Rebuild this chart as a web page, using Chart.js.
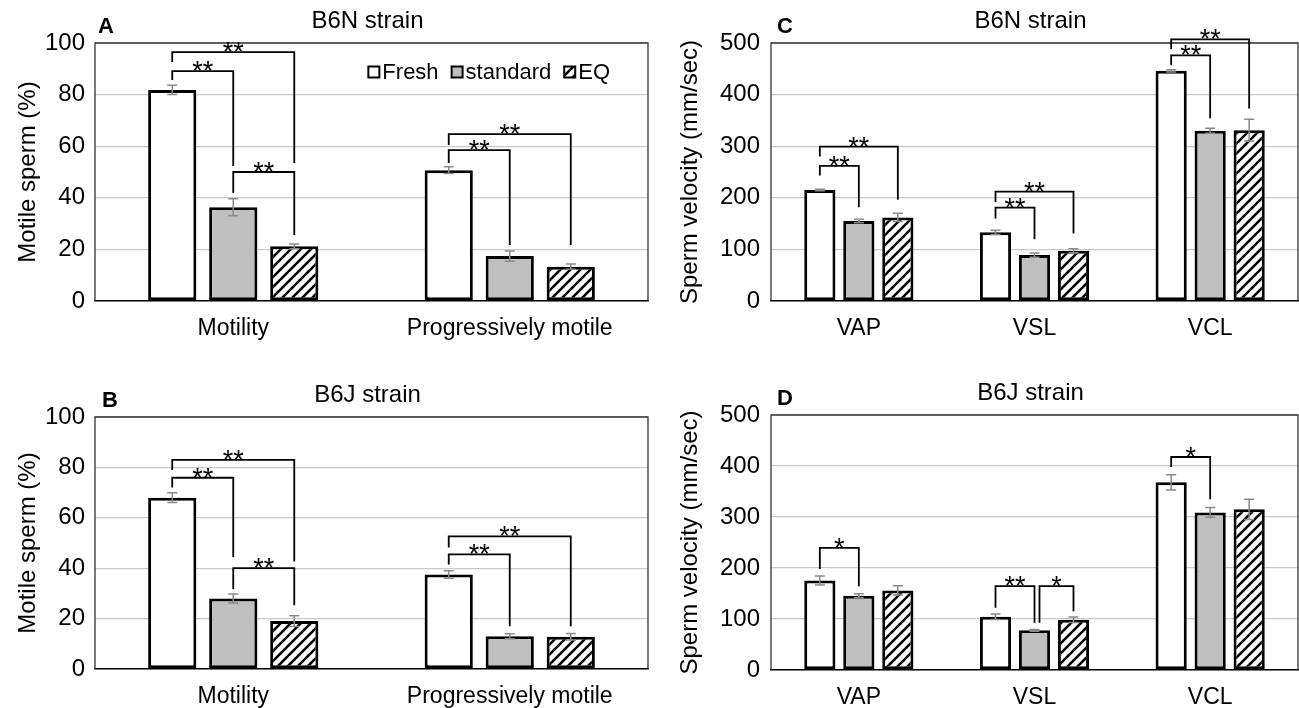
<!DOCTYPE html>
<html>
<head>
<meta charset="utf-8">
<script src="https://cdn.jsdelivr.net/npm/chart.js@4.4.1/dist/chart.umd.min.js"></script>
<style>
  body { margin: 0; width: 1299px; height: 708px; background: #fff; position: relative; overflow: hidden; }
  .panel { position: absolute; }
</style>
</head>
<body>
<div class="panel" style="left:0;top:0"><canvas id="chartA" width="650" height="354"></canvas></div>
<div class="panel" style="left:0;top:354px"><canvas id="chartB" width="650" height="354"></canvas></div>
<div class="panel" style="left:650px;top:0"><canvas id="chartC" width="649" height="354"></canvas></div>
<div class="panel" style="left:650px;top:354px"><canvas id="chartD" width="649" height="354"></canvas></div>
<script>
const seriesNames = ['Fresh', 'standard', 'EQ'];
const motilityCats = ['Motility', 'Progressively motile'];
const velocityCats = ['VAP', 'VSL', 'VCL'];
const pctTicks = [0, 20, 40, 60, 80, 100];
const velTicks = [0, 100, 200, 300, 400, 500];

// A - B6N motility (%)
const freshA = [81.8, 50.7];
const standardA = [36.3, 17.4];
const eqA = [21.2, 13.3];
const freshErrA = [1.8, 1.3];
const standardErrA = [3.3, 2.0];
const eqErrA = [0.9, 1.0];
// [category, from series, to series, bracket level, left leg end, right leg end, label]
const sigA = [
  [0, 0, 2, 96.5, 92.6, 53.5, '**'],
  [0, 0, 1, 89.1, 85.7, 52.3, '**'],
  [0, 1, 2, 50.0, 41.9, 25.6, '**'],
  [1, 0, 2, 64.7, 60.5, 21.7, '**'],
  [1, 0, 1, 58.5, 53.5, 21.7, '**']
];

// B - B6J motility (%)
const freshB = [68, 37.5];
const standardB = [28, 13];
const eqB = [19, 12.8];
const freshErrB = [1.9, 1.5];
const standardErrB = [1.8, 1.0];
const eqErrB = [2.1, 1.3];
const sigB = [
  [0, 0, 2, 83.0, 79.0, 42.7, '**'],
  [0, 0, 1, 75.9, 72.0, 44.3, '**'],
  [0, 1, 2, 40.0, 31.6, 25.3, '**'],
  [1, 0, 2, 52.6, 48.2, 17.0, '**'],
  [1, 0, 1, 45.5, 41.5, 17.0, '**']
];

// C - B6N velocity
const freshC = [215, 133, 446];
const standardC = [155, 89, 330];
const eqC = [162, 97.5, 331];
const freshErrC = [1.5, 4, 2];
const standardErrC = [3.5, 4, 5];
const eqErrC = [8, 4, 21];
const sigC = [
  [0, 0, 2, 299, 280, 196, '**'],
  [0, 0, 1, 262, 243, 181.5, '**'],
  [1, 0, 2, 212, 192, 131, '**'],
  [1, 0, 1, 181, 160, 119.5, '**'],
  [2, 0, 2, 507, 488, 373, '**'],
  [2, 0, 1, 476, 457, 354, '**']
];

// D - B6J velocity
const freshD = [175.5, 104.5, 368];
const standardD = [145.6, 77.7, 309];
const eqD = [156, 98.6, 315];
const freshErrD = [9, 5.5, 15];
const standardErrD = [4, 1.5, 9.5];
const eqErrD = [9, 5.5, 20];
const sigD = [
  [0, 0, 1, 239.5, 198, 164, '*'],
  [1, 0, 1, 164.4, 122, 92.7, '**'],
  [1, 1, 2, 164.4, 92.7, 115, '*'],
  [2, 0, 1, 417.6, 398, 335, '*']
];

const FONT = '"Liberation Sans", Arial, sans-serif';
Chart.defaults.font.family = FONT;
Chart.defaults.color = '#000';

function hatch() {
  const c = document.createElement('canvas');
  c.width = 10; c.height = 10;
  const g = c.getContext('2d');
  g.fillStyle = '#fff';
  g.fillRect(0, 0, 10, 10);
  g.strokeStyle = '#000';
  g.lineWidth = 2.6;
  g.beginPath();
  g.moveTo(-1, 11); g.lineTo(11, -1);
  g.moveTo(-6, 6); g.lineTo(6, -6);
  g.moveTo(4, 16); g.lineTo(16, 4);
  g.stroke();
  return g.createPattern(c, 'repeat');
}
const fills = ['#ffffff', '#bfbfbf', hatch()];

// left, top and right edges of the plot box
const frame = {
  id: 'frame',
  beforeDatasetsDraw(chart) {
    const {ctx, chartArea: a} = chart;
    ctx.save();
    ctx.strokeStyle = '#333';
    ctx.lineWidth = 1.3;
    ctx.beginPath();
    ctx.moveTo(a.left, a.bottom);
    ctx.lineTo(a.left, a.top);
    ctx.lineTo(a.right, a.top);
    ctx.lineTo(a.right, a.bottom);
    ctx.stroke();
    ctx.restore();
  }
};

const errorBars = {
  id: 'errorBars',
  afterDatasetsDraw(chart) {
    const {ctx} = chart;
    const y = chart.scales.y;
    ctx.save();
    ctx.strokeStyle = '#8a8a8a';
    ctx.lineWidth = 1.5;
    chart.data.datasets.forEach((ds, i) => {
      chart.getDatasetMeta(i).data.forEach((bar, j) => {
        const v = ds.data[j], e = ds.errors[j];
        const yt = y.getPixelForValue(v + e), yb = y.getPixelForValue(v - e);
        ctx.beginPath();
        ctx.moveTo(bar.x, yt); ctx.lineTo(bar.x, yb);
        ctx.moveTo(bar.x - 5, yt); ctx.lineTo(bar.x + 5, yt);
        ctx.moveTo(bar.x - 5, yb); ctx.lineTo(bar.x + 5, yb);
        ctx.stroke();
      });
    });
    ctx.restore();
  }
};

const brackets = {
  id: 'brackets',
  afterDraw(chart, args, opts) {
    const {ctx} = chart;
    const y = chart.scales.y;
    ctx.save();
    ctx.strokeStyle = '#000';
    ctx.lineWidth = 1.8;
    ctx.fillStyle = '#000';
    ctx.font = '27px ' + FONT;
    ctx.textAlign = 'center';
    ctx.textBaseline = 'alphabetic';
    opts.items.forEach(([cat, from, to, level, leftEnd, rightEnd, label]) => {
      let xl = chart.getDatasetMeta(from).data[cat].x;
      const xr = chart.getDatasetMeta(to).data[cat].x;
      // two brackets meeting on the same bar at the same height: keep the legs apart
      const shared = opts.items.some(o => o[0] === cat && o[2] === from && o[3] === level);
      if (shared) xl += 5;
      const yl = y.getPixelForValue(level);
      ctx.beginPath();
      ctx.moveTo(xl, y.getPixelForValue(leftEnd));
      ctx.lineTo(xl, yl);
      ctx.lineTo(xr, yl);
      ctx.lineTo(xr, y.getPixelForValue(rightEnd));
      ctx.stroke();
      ctx.fillText(label, (xl + xr) / 2, yl + 9);
    });
    ctx.restore();
  }
};

const boxLegend = {
  id: 'boxLegend',
  afterDraw(chart, args, opts) {
    if (!opts.show) return;
    const {ctx, chartArea: a} = chart;
    ctx.save();
    ctx.font = '22px ' + FONT;
    ctx.textBaseline = 'middle';
    const items = chart.data.datasets;
    const box = 11, gapText = 3, gapItem = 13;
    let total = 0;
    items.forEach((d, i) => {
      total += box + gapText + ctx.measureText(d.label).width + (i < items.length - 1 ? gapItem : 0);
    });
    let x = a.right - opts.right - total;
    const yc = a.top + opts.top;
    items.forEach(d => {
      ctx.fillStyle = d.backgroundColor;
      ctx.fillRect(x, yc - box / 2, box, box);
      ctx.strokeStyle = '#000';
      ctx.lineWidth = 2;
      ctx.strokeRect(x, yc - box / 2, box, box);
      x += box + gapText;
      ctx.fillStyle = '#000';
      ctx.fillText(d.label, x, yc + 1);
      x += ctx.measureText(d.label).width + gapItem;
    });
    ctx.restore();
  }
};

const panelText = {
  id: 'panelText',
  afterDraw(chart, args, opts) {
    const {ctx, chartArea: a} = chart;
    ctx.save();
    ctx.fillStyle = '#000';
    ctx.textBaseline = 'alphabetic';
    ctx.font = 'bold 22px ' + FONT;
    ctx.textAlign = 'left';
    ctx.fillText(opts.letter, a.left + opts.letterDx, a.top - 10);
    ctx.font = '24px ' + FONT;
    ctx.textAlign = 'center';
    ctx.fillText(opts.title, (a.left + a.right) / 2 - 4, a.top - 15);
    ctx.restore();
  }
};

function buildChart(id, p) {
  return new Chart(document.getElementById(id), {
    type: 'bar',
    data: {
      labels: p.categories,
      datasets: seriesNames.map((name, i) => ({
        label: name,
        data: p.values[i],
        errors: p.errors[i],
        backgroundColor: fills[i],
        borderColor: '#000',
        borderWidth: 3,
        borderSkipped: false,
        categoryPercentage: p.catPct,
        barPercentage: p.barPct
      }))
    },
    options: {
      responsive: false,
      animation: false,
      layout: {padding: {top: p.padTop, right: p.padRight, left: 0, bottom: 0}},
      plugins: {
        legend: {display: false},
        tooltip: {enabled: false},
        panelText: {letter: p.letter, title: p.title, letterDx: p.letterDx},
        brackets: {items: p.sig},
        boxLegend: {show: !!p.legend, right: 38, top: 29}
      },
      scales: {
        x: {
          grid: {display: false},
          border: {display: true, color: '#000', width: 1.6},
          ticks: {font: {size: 23}, color: '#000', padding: 6, maxRotation: 0, autoSkip: false},
          afterFit: s => { s.height = p.xHeight; }
        },
        y: {
          min: 0,
          max: p.ticks[p.ticks.length - 1],
          afterBuildTicks: s => { s.ticks = p.ticks.map(v => ({value: v})); },
          grid: {color: '#c9c9c9', lineWidth: 1.3, drawTicks: false},
          border: {display: false},
          ticks: {font: {size: 24}, color: '#000', padding: p.tickPad},
          title: {display: true, text: p.yTitle, font: {size: 24}, color: '#000', padding: {top: p.titlePad, bottom: 0}},
          afterFit: s => { s.width = p.yWidth; }
        }
      }
    },
    plugins: [frame, errorBars, brackets, boxLegend, panelText]
  });
}

buildChart('chartA', {
  categories: motilityCats, values: [freshA, standardA, eqA], errors: [freshErrA, standardErrA, eqErrA],
  sig: sigA, ticks: pctTicks, yTitle: 'Motile sperm (%)', letter: 'A', title: 'B6N strain', legend: true,
  padTop: 43, padRight: 2, xHeight: 53, yWidth: 95, tickPad: 10, titlePad: 14, letterDx: 3,
  catPct: 0.662, barPct: 0.79
});
buildChart('chartB', {
  categories: motilityCats, values: [freshB, standardB, eqB], errors: [freshErrB, standardErrB, eqErrB],
  sig: sigB, ticks: pctTicks, yTitle: 'Motile sperm (%)', letter: 'B', title: 'B6J strain',
  padTop: 63, padRight: 2, xHeight: 39, yWidth: 95, tickPad: 10, titlePad: 14, letterDx: 7,
  catPct: 0.662, barPct: 0.79
});
buildChart('chartC', {
  categories: velocityCats, values: [freshC, standardC, eqC], errors: [freshErrC, standardErrC, eqErrC],
  sig: sigC, ticks: velTicks, yTitle: 'Sperm velocity (mm/sec)', letter: 'C', title: 'B6N strain',
  padTop: 43, padRight: 1, xHeight: 53, yWidth: 121, tickPad: 11, titlePad: 26, letterDx: 6,
  catPct: 0.666, barPct: 0.8
});
buildChart('chartD', {
  categories: velocityCats, values: [freshD, standardD, eqD], errors: [freshErrD, standardErrD, eqErrD],
  sig: sigD, ticks: velTicks, yTitle: 'Sperm velocity (mm/sec)', letter: 'D', title: 'B6J strain',
  padTop: 61, padRight: 1, xHeight: 38, yWidth: 121, tickPad: 11, titlePad: 26, letterDx: 6,
  catPct: 0.666, barPct: 0.8
});
</script>
</body>
</html>
